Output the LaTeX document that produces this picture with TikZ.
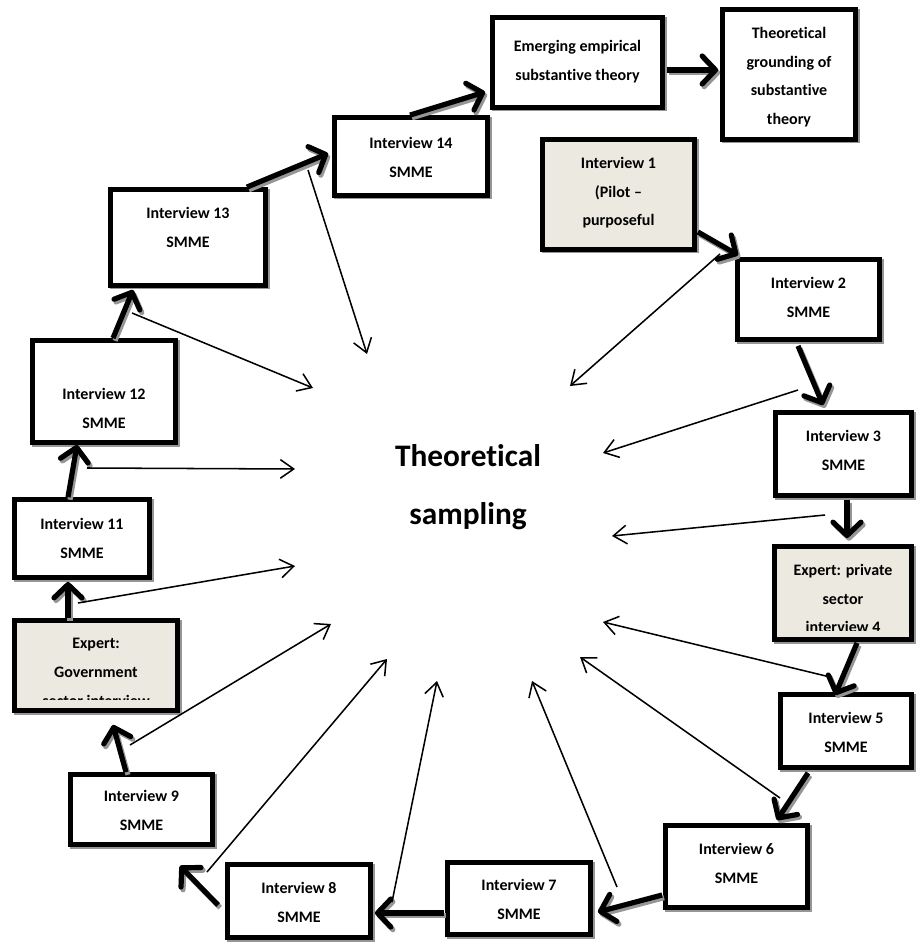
\documentclass[tikz,border=0pt]{standalone}
\usepackage{fontspec}
\setmainfont{Carlito}[Ligatures=NoCommon]
\usetikzlibrary{arrows.meta,calc}
\definecolor{panelfill}{RGB}{236,234,224}
\definecolor{shadowgray}{RGB}{150,150,150}

\begin{document}
\begin{tikzpicture}[x=0.75pt,y=-0.75pt,
  stage/.style={draw=black, line width=3.6pt, fill=white, inner sep=0pt,
    preaction={draw=shadowgray, line width=3.6pt,
      transform canvas={shift={(1.2pt,-1.2pt)}}}},
  shaded/.style={stage, fill=panelfill},
  stagetext/.style={anchor=north, inner sep=0pt, align=center,
    font=\fontsize{12}{21.5}\selectfont\bfseries},
  flow/.style={line width=3.9pt, -{Straight Barb[length=10pt,width=21pt,round]},
    preaction={draw=shadowgray, line width=3.9pt,
      -{Straight Barb[length=10pt,width=21pt,round]},
      transform canvas={shift={(1.5pt,-2pt)}}}},
  feed/.style={line width=1.15pt, -{Straight Barb[length=10pt,width=14pt]}}]

\useasboundingbox (0,0) rectangle (917,944);

% ---- stage boxes ----
\node[stage,  minimum width=127.5pt,  minimum height=67.5pt]  (emerg)  at (577.5,62.5) {};
\node[stage,  minimum width=99.75pt,  minimum height=97.5pt]  (ground) at (789,74.5)   {};
\node[shaded, minimum width=114pt,    minimum height=82.5pt]  (i1)     at (618.5,194.5) {};
\node[stage,  minimum width=106.5pt,  minimum height=60pt]    (i2)     at (808.5,299.5) {};
\node[stage,  minimum width=102pt,    minimum height=62.25pt] (i3)     at (843.5,454)   {};
\node[shaded, minimum width=102.75pt, minimum height=69.75pt] (expp)   at (843,593)     {};
\node[stage,  minimum width=98.25pt,  minimum height=54.75pt] (i5)     at (846,731)     {};
\node[stage,  minimum width=106.5pt,  minimum height=61.5pt]  (i6)     at (736.5,866.5) {};
\node[stage,  minimum width=107.25pt, minimum height=54pt]    (i7)     at (519,898.5)   {};
\node[stage,  minimum width=107.25pt, minimum height=54.75pt] (i8)     at (299,901)     {};
\node[stage,  minimum width=106.5pt,  minimum height=52.5pt]  (i9)     at (141.5,809.5) {};
\node[shaded, minimum width=122.25pt, minimum height=67.5pt]  (gov)    at (96,665.5)    {};
\node[stage,  minimum width=101.25pt, minimum height=58.5pt]  (i11)    at (82,538.5)    {};
\node[stage,  minimum width=107.25pt, minimum height=76.5pt]  (i12)    at (104,391.5)   {};
\node[stage,  minimum width=116.25pt, minimum height=72pt]    (i13)    at (188,237.5)   {};
\node[stage,  minimum width=114.75pt, minimum height=58.5pt]  (i14)    at (411,156.5)   {};

% ---- box labels ----
\node[stagetext] (emergt)  at ($(emerg.north)+(0,25)$)  {Emerging empirical\\substantive theory};
\node[stagetext] (groundt) at ($(ground.north)+(0,20)$) {Theoretical\\grounding of\\substantive\\theory};
\node[stagetext] (i1t)  at ($(i1.north)+(0,20)$)  {Interview 1\\(Pilot --\\purposeful};
\node[stagetext] (i2t)  at ($(i2.north)+(0,20)$)  {Interview 2\\SMME};
\node[stagetext] (i3t)  at ($(i3.north)+(0,20)$)  {Interview 3\\SMME};
\begin{scope}
  \clip ($(expp.north west)+(5,5)$) rectangle ($(expp.south east)+(-5,-11)$);
  \node[stagetext] (exppt) at ($(expp.north)+(0,20)$) {Expert: private\\sector\\interview 4};
\end{scope}
\node[stagetext] (i5t)  at ($(i5.north)+(0,20)$)  {Interview 5\\SMME};
\node[stagetext] (i6t)  at ($(i6.north)+(0,20)$)  {Interview 6\\SMME};
\node[stagetext] (i7t)  at ($(i7.north)+(0,19)$)  {Interview 7\\SMME};
\node[stagetext] (i8t)  at ($(i8.north)+(0,20)$)  {Interview 8\\SMME};
\node[stagetext] (i9t)  at ($(i9.north)+(0,18)$)  {Interview 9\\SMME};
\begin{scope}
  \clip ($(gov.north west)+(5,5)$) rectangle ($(gov.south east)+(-5,-13)$);
  \node[stagetext] (govt) at ($(gov.north)+(0,20)$) {Expert:\\Government\\sector interview};
\end{scope}
\node[stagetext] (i11t) at ($(i11.north)+(0,21)$) {Interview 11\\SMME};
\node[stagetext] (i12t) at ($(i12.north)+(0,50)$) {Interview 12\\SMME};
\node[stagetext] (i13t) at ($(i13.north)+(0,20)$) {Interview 13\\SMME};
\node[stagetext] (i14t) at ($(i14.north)+(0,22)$) {Interview 14\\SMME};

% ---- central concept ----
\node[align=center, inner sep=0pt, font=\fontsize{23.5}{44}\selectfont\bfseries]
  (core) at (468,487) {Theoretical\\sampling};

% ---- main sequence of interviews ----
\draw[flow] ($(i1.east)+(1,37.5)$)    -- ($(i2.north west)+(3,-2)$);
\draw[flow] ($(i2.south)+(-10.5,4)$)  -- ($(i3.north)+(-20.5,-5)$);
\draw[flow] ($(i3.south)+(3.5,2)$)    -- ($(expp.north)+(4,-6)$);
\draw[flow] ($(expp.south)+(14,1)$)   -- ($(i5.north)+(-11,3)$);
\draw[flow] ($(i5.south)+(-38,3)$)    -- ($(i6.north)+(40.5,-3)$);
\draw[flow] ($(i6.west)+(-1,28.5)$)   -- ($(i7.east)+(5,13.5)$);
\draw[flow] ($(i7.west)+(-1,14.5)$)   -- ($(i8.east)+(2,12)$);
\draw[flow] ($(i8.west)+(-7,4)$)      -- ($(i9.south east)+(-35,19)$);
\draw[flow] ($(i9.north)+(-15.5,0)$)  -- ($(gov.south)+(17,12)$);
\draw[flow] ($(gov.north)+(-28,0)$)   -- ($(i11.south)+(-14,2)$);
\draw[flow] ($(i11.north)+(-14,0)$)   -- ($(i12.south)+(-27,0)$);
\draw[flow] ($(i12.north)+(9,0)$)     -- ($(i13.south)+(-55,2)$);
\draw[flow] ($(i13.north east)+(-21,0)$) -- ($(i14.west)+(-4,-3)$);
\draw[flow] ($(i14.north)+(-1,0)$)    -- ($(emerg.west)+(-5,29.5)$);
\draw[flow] ($(emerg.east)+(2,7.5)$)  -- ($(ground.west)+(-2,-4.5)$);

% ---- feedback into theoretical sampling ----
\coordinate (f1)  at (308,170);  \coordinate (c1)  at (367,354);
\coordinate (f2)  at (132,313);  \coordinate (c2)  at (313,388);
\coordinate (f3)  at (87,468);   \coordinate (c3)  at (295,469);
\coordinate (f4)  at (78,603);   \coordinate (c4)  at (295,566);
\coordinate (f5)  at (130,745);  \coordinate (c5)  at (331,624);
\coordinate (f6)  at (207,872);  \coordinate (c6)  at (387,659);
\coordinate (f7)  at (392,902);  \coordinate (c7)  at (437,681);
\coordinate (f8)  at (617,887);  \coordinate (c8)  at (532,681);
\coordinate (f9)  at (780,798);  \coordinate (c9)  at (580,657);
\coordinate (f10) at (830,677);  \coordinate (c10) at (603,622);
\coordinate (f11) at (825,515);  \coordinate (c11) at (612,536);
\coordinate (f12) at (798,390);  \coordinate (c12) at (603,453);
\coordinate (f13) at (720,254);  \coordinate (c13) at (570,386);
\foreach \k in {1,...,13} { \draw[feed] (f\k) -- (c\k); }

\end{tikzpicture}
\end{document}
